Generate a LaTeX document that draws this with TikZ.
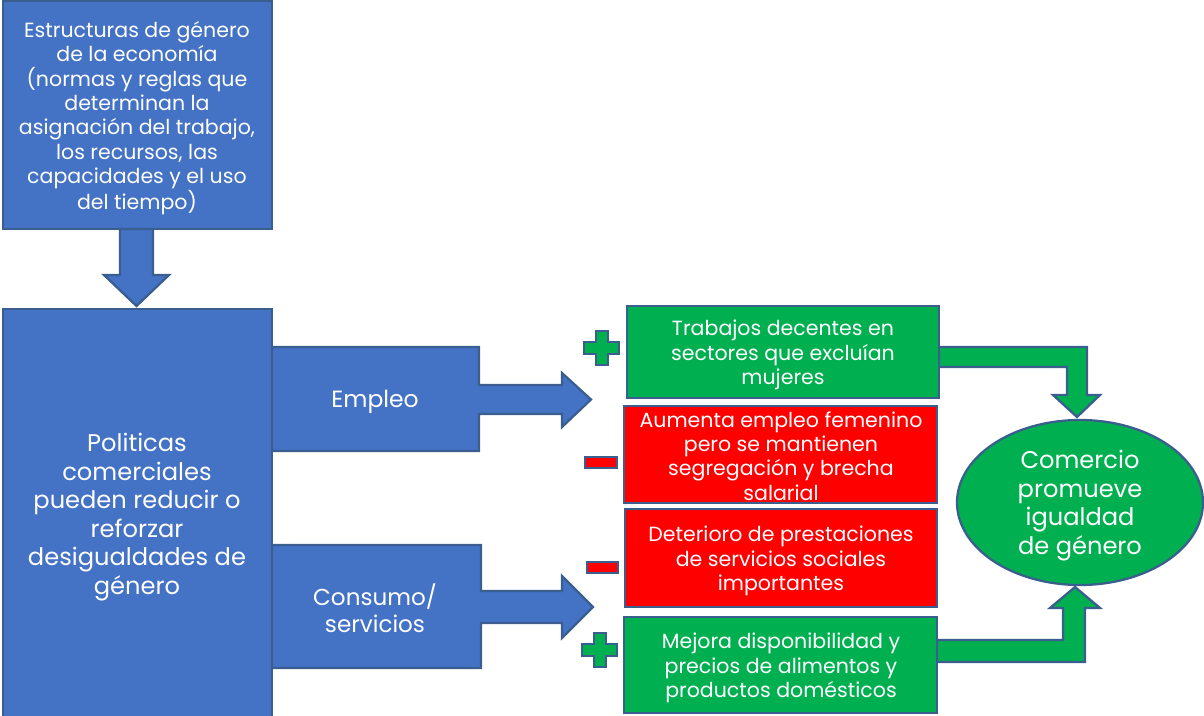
\documentclass[tikz,border=0pt]{standalone}
\usepackage{fontspec}
\setmainfont{Poppins}
\usetikzlibrary{shapes.geometric}
\definecolor{bblue}{HTML}{4472C4}
\definecolor{bord}{HTML}{3A5E8E}
\definecolor{ggreen}{HTML}{00B050}
\definecolor{rred}{HTML}{FF0000}
\tikzset{
  shp/.style={draw=bord, line width=1.7pt, line join=miter},
  boxb/.style={shp, fill=bblue},
  boxg/.style={shp, fill=ggreen},
  boxr/.style={shp, fill=rred},
  txt/.style={text=white, align=center, inner sep=0pt, font=\fontsize{15.4}{18.3}\selectfont},
  bigtxt/.style={text=white, align=center, inner sep=0pt, font=\fontsize{18.1}{21.4}\selectfont},
}
\begin{document}
\begin{tikzpicture}[x=0.75pt,y=-0.75pt]
\useasboundingbox (0,0) rectangle (1204,715);
% top box
\draw[boxb] (3,1) rectangle (272,229);
\node[txt] (top) at (137,118) {Estructuras de género\\de la economía\\(normas y reglas que\\determinan la\\asignación del trabajo,\\los recursos, las\\capacidades y el uso\\del tiempo)};
% down arrow
\draw[boxb] (120,229) -- (153,229) -- (153,275) -- (169,275) -- (136.5,306) -- (104,275) -- (120,275) -- cycle;
% callouts
\draw[boxb] (272,347) -- (479,347) -- (479,385) -- (562,385) -- (562,373) -- (591,399.5) -- (562,427) -- (562,414) -- (479,414) -- (479,451) -- (272,451) -- cycle;
\node[bigtxt, font=\fontsize{17.6}{21}\selectfont] (emp) at (375,402) {Empleo};
\draw[boxb] (272,545) -- (481,545) -- (481,591) -- (562,591) -- (562,576) -- (593,607) -- (562,638) -- (562,623) -- (481,623) -- (481,668) -- (272,668) -- cycle;
\node[txt, font=\fontsize{17.3}{20.5}\selectfont] (cons) at (375,608) {Consumo/\\servicios};
% big box
\draw[boxb] (3,309) rectangle (272,730);
\node[bigtxt] (pol) at (137,517) {Politicas\\comerciales\\pueden reducir o\\reforzar\\desigualdades de\\género};
% bent green arrows
\draw[boxg] (939,347) -- (1087,347) -- (1087,395) -- (1100,395) -- (1077,417) -- (1053,395) -- (1067,395) -- (1067,367) -- (939,367) -- cycle;
\draw[boxg] (937,640) -- (1063,640) -- (1063,608) -- (1050,608) -- (1075,587) -- (1100,608) -- (1085,608) -- (1085,662) -- (937,662) -- cycle;
% right boxes
\draw[boxg] (627,306) rectangle (939,398);
\node[txt] (g1) at (783,355) {Trabajos decentes en\\sectores que excluían\\mujeres};
\draw[boxr] (624,406) rectangle (937,503);
\node[txt] (r1) at (781,456) {Aumenta empleo femenino\\pero se mantienen\\segregación y brecha\\salarial};
\draw[boxr] (625,509) rectangle (937,607);
\node[txt] (r2) at (781,561) {Deterioro de prestaciones\\de servicios sociales\\importantes};
\draw[boxg] (624,617) rectangle (937,713);
\node[txt] (g2) at (781,668) {Mejora disponibilidad y\\precios de alimentos y\\productos domésticos};
% ellipse
\node[shp, fill=ggreen, ellipse, minimum width=246*0.75pt, minimum height=165*0.75pt, inner sep=0pt] (ell) at (1080,502.5) {};
\node[bigtxt] (elltxt) at (1080,505.5) {Comercio\\promueve\\igualdad\\de género};
% plus / minus signs
\draw[shp, fill=ggreen] (596,331) -- (608,331) -- (608,342) -- (619,342) -- (619,354) -- (608,354) -- (608,365) -- (596,365) -- (596,354) -- (584,354) -- (584,342) -- (596,342) -- cycle;
\draw[shp, fill=ggreen] (594,633) -- (606,633) -- (606,644) -- (617,644) -- (617,656) -- (606,656) -- (606,667) -- (594,667) -- (594,656) -- (582,656) -- (582,644) -- (594,644) -- cycle;
\draw[shp, fill=rred] (585,457) rectangle (617,468);
\draw[shp, fill=rred] (587,562) rectangle (618,573);
\end{tikzpicture}
\end{document}
